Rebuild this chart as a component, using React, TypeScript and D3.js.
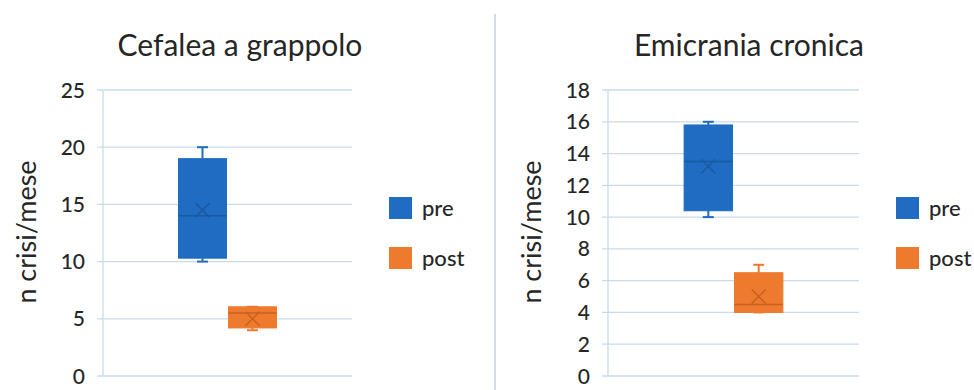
import React from "react";
import * as d3 from "d3";

// Monthly attack counts, before and after treatment
const seriesNames = ["pre", "post"];
const seriesColors = ["#1f6cc2", "#ee7a2e"];
const markColors = ["#1a5aa3", "#c8601f"];

const clusterMin = [10, 4];
const clusterQ1 = [10.3, 4.2];
const clusterMedian = [14, 5.5];
const clusterQ3 = [19, 6.05];
const clusterMax = [20, 6.05];
const clusterMean = [14.5, 5];
const clusterTicks = [0, 5, 10, 15, 20, 25];

const chronicMin = [10, 4];
const chronicQ1 = [10.4, 4];
const chronicMedian = [13.5, 4.5];
const chronicQ3 = [15.8, 6.5];
const chronicMax = [16, 7];
const chronicMean = [13.2, 5];
const chronicTicks = [0, 2, 4, 6, 8, 10, 12, 14, 16, 18];

const panelTitles = ["Cefalea a grappolo", "Emicrania cronica"];
const yLabel = "n crisi/mese";

const FONT = "Lato, 'Open Sans', sans-serif";
const GRID = "#c9dbe8";

type PanelProps = {
  title: string;
  ox: number;
  plotW: number;
  mins: number[];
  q1s: number[];
  medians: number[];
  q3s: number[];
  maxs: number[];
  means: number[];
  ticks: number[];
  titleX: number;
  labelX: number;
  legendX: number;
};

function Panel(p: PanelProps) {
  const top = 90;
  const bottom = 376;
  const y = d3
    .scaleLinear()
    .domain([0, p.ticks[p.ticks.length - 1]])
    .range([bottom, top]);
  const x = d3
    .scaleBand<string>()
    .domain(seriesNames)
    .range([p.ox, p.ox + p.plotW])
    .paddingInner(0.04)
    .paddingOuter(1.51);
  const bw = x.bandwidth();
  const cap = 11;
  const xm = 7;

  return (
    <g>
      <text
        x={p.titleX}
        y={56}
        textAnchor="middle"
        fontFamily={FONT}
        fontSize={30}
        fill="#262626"
      >
        {p.title}
      </text>
      <text
        transform={`translate(${p.labelX},${232}) rotate(-90)`}
        textAnchor="middle"
        fontFamily={FONT}
        fontSize={27}
        fill="#262626"
      >
        {yLabel}
      </text>
      {p.ticks.map((t) => (
        <g key={t}>
          <line
            x1={p.ox - 6}
            x2={p.ox + p.plotW}
            y1={y(t)}
            y2={y(t)}
            stroke={GRID}
            strokeWidth={1.3}
          />
          <text
            x={p.ox - 18}
            y={y(t)}
            dy="0.36em"
            textAnchor="end"
            fontFamily={FONT}
            fontSize={21}
            fontWeight={500}
            fill="#262626"
          >
            {t}
          </text>
        </g>
      ))}
      <line x1={p.ox} x2={p.ox} y1={top} y2={bottom} stroke={GRID} strokeWidth={1.3} />
      {seriesNames.map((s, i) => {
        const x0 = x(s) as number;
        const cx = x0 + bw / 2;
        const c = seriesColors[i];
        const mc = markColors[i];
        return (
          <g key={s}>
            <line x1={cx} x2={cx} y1={y(p.maxs[i])} y2={y(p.q3s[i])} stroke={c} strokeWidth={2} />
            <line x1={cx} x2={cx} y1={y(p.q1s[i])} y2={y(p.mins[i])} stroke={c} strokeWidth={2} />
            <line x1={cx - cap / 2} x2={cx + cap / 2} y1={y(p.maxs[i])} y2={y(p.maxs[i])} stroke={c} strokeWidth={2} />
            <line x1={cx - cap / 2} x2={cx + cap / 2} y1={y(p.mins[i])} y2={y(p.mins[i])} stroke={c} strokeWidth={2} />
            <rect
              x={x0}
              y={y(p.q3s[i])}
              width={bw}
              height={y(p.q1s[i]) - y(p.q3s[i])}
              fill={c}
              stroke={c}
              strokeWidth={1}
            />
            <line x1={x0} x2={x0 + bw} y1={y(p.medians[i])} y2={y(p.medians[i])} stroke={mc} strokeWidth={1.5} />
            <path
              d={`M${cx - xm},${y(p.means[i]) - xm}L${cx + xm},${y(p.means[i]) + xm}M${cx + xm},${y(p.means[i]) - xm}L${cx - xm},${y(p.means[i]) + xm}`}
              stroke={mc}
              strokeWidth={1.5}
              fill="none"
            />
          </g>
        );
      })}
      {seriesNames.map((s, i) => (
        <g key={s} transform={`translate(${p.legendX},${197 + i * 50})`}>
          <rect x={0} y={0} width={23} height={22} fill={seriesColors[i]} />
          <text x={33} y={19} fontFamily={FONT} fontSize={22} fontWeight={500} fill="#262626">
            {s}
          </text>
        </g>
      ))}
    </g>
  );
}

export default function App() {
  return (
    <svg width={974} height={390} style={{ position: "absolute", left: 0, top: 0, background: "#fff" }}>
      <rect width={974} height={390} fill="#fff" />
      <line x1={495} x2={495} y1={14} y2={390} stroke="#d3dbe2" strokeWidth={2} />
      <Panel
        title={panelTitles[0]}
        ox={103}
        plotW={249}
        mins={clusterMin}
        q1s={clusterQ1}
        medians={clusterMedian}
        q3s={clusterQ3}
        maxs={clusterMax}
        means={clusterMean}
        ticks={clusterTicks}
        titleX={240}
        labelX={36}
        legendX={389}
      />
      <Panel
        title={panelTitles[1]}
        ox={608}
        plotW={251}
        mins={chronicMin}
        q1s={chronicQ1}
        medians={chronicMedian}
        q3s={chronicQ3}
        maxs={chronicMax}
        means={chronicMean}
        ticks={chronicTicks}
        titleX={749}
        labelX={541}
        legendX={896}
      />
    </svg>
  );
}
